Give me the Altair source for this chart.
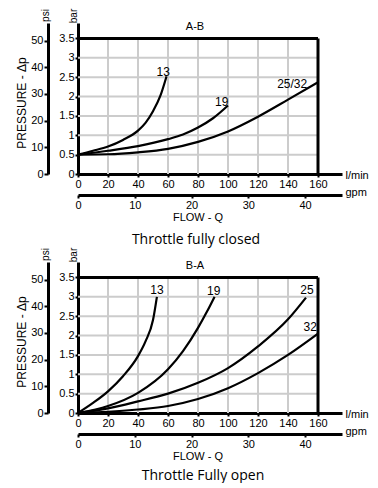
import altair as alt
import pandas as pd

# ---------------- data ----------------
TOP_HEAD = "A-B"
TOP_CAPTION = "Throttle fully closed"
TOP_13_Q = [0, 10, 20, 30, 40, 45, 50, 55, 59]
TOP_13_P = [0.5, 0.6, 0.71, 0.88, 1.12, 1.32, 1.62, 2.03, 2.52]
TOP_19_Q = [0, 20, 40, 60, 70, 80, 90, 100]
TOP_19_P = [0.5, 0.6, 0.72, 0.9, 1.02, 1.2, 1.44, 1.77]
TOP_25_Q = [0, 20, 40, 60, 80, 100, 120, 140, 160]
TOP_25_P = [0.5, 0.51, 0.56, 0.65, 0.83, 1.1, 1.48, 1.92, 2.37]
TOP_LABEL_TEXT = ["13", "19", "25/32"]
TOP_LABEL_Q = [56.8, 95.8, 142.8]
TOP_LABEL_P = [2.63, 1.87, 2.32]

BOT_HEAD = "B-A"
BOT_CAPTION = "Throttle Fully open"
BOT_13_Q = [0, 10, 20, 30, 40, 45, 50, 52.6]
BOT_13_P = [0, 0.26, 0.56, 0.95, 1.47, 1.85, 2.4, 3.0]
BOT_19_Q = [0, 20, 40, 60, 70, 80, 86, 91]
BOT_19_P = [0, 0.18, 0.52, 1.13, 1.6, 2.2, 2.62, 3.0]
BOT_25_Q = [0, 20, 40, 60, 80, 100, 120, 140, 152]
BOT_25_P = [0, 0.12, 0.3, 0.5, 0.78, 1.16, 1.72, 2.42, 2.98]
BOT_32_Q = [0, 20, 40, 60, 80, 100, 120, 140, 160]
BOT_32_P = [0, 0.03, 0.09, 0.18, 0.36, 0.64, 1.03, 1.5, 2.05]
BOT_LABEL_TEXT = ["13", "19", "25", "32"]
BOT_LABEL_Q = [52.6, 90.5, 152.6, 154.8]
BOT_LABEL_P = [3.17, 3.16, 3.18, 2.22]

Q_TICKS = [0, 20, 40, 60, 80, 100, 120, 140, 160]
P_TICKS = [0, 0.5, 1, 1.5, 2, 2.5, 3, 3.5]
PSI_TICKS = [0, 10, 20, 30, 40, 50]
GPM_TICKS = [0, 10, 20, 30, 40]
GRID_Q = [20, 40, 60, 80, 100, 120, 140]
GRID_P = [0.5, 1, 1.5, 2, 2.5, 3]
Q_MAX = 160
P_MAX = 3.5
Q_AXIS_END = 176
P_AXIS_END = 3.9
BAR_TO_PSI = 14.5038
LPM_PER_GPM = 3.78541

X_UNIT = "l/min"
GPM_UNIT = "gpm"
BAR_UNIT = "bar"
PSI_UNIT = "psi"
Y_TITLE = "PRESSURE - \u0394p"
X_TITLE = "FLOW - Q"

# ---------------- styling ----------------
W, H = 264, 151
FONT = "Liberation Sans"
CAP_FONT = "Open Sans"
GRID_COLOR = "#cccccc"


def series_df(names, qs, ps):
    rows = []
    for n, q, p in zip(names, qs, ps):
        for a, b in zip(q, p):
            rows.append({"s": n, "q": a, "p": b})
    return pd.DataFrame(rows)


def note(txt, x, y, **kw):
    return alt.Chart(pd.DataFrame({"t": [txt]})).mark_text(**kw).encode(
        x=alt.value(x), y=alt.value(y), text="t:N"
    )


def panel(curves, labels, head, caption, cap_x, cap_y):
    xs = alt.Scale(domain=[0, Q_AXIS_END], nice=False, zero=False)
    ys = alt.Scale(domain=[0, P_AXIS_END], nice=False, zero=False)
    xaxis = alt.Axis(values=Q_TICKS, title=X_UNIT, titleX=W + 3, titleY=1,
                     titleAlign="left", titleBaseline="middle", titleAngle=0,
                     tickSize=3, labelPadding=1, labelFlush=False, labelOverlap=False)
    yaxis = alt.Axis(values=P_TICKS, format="~g", title=None, tickSize=3,
                     labelPadding=1, labelFlush=False, labelOverlap=False)
    X = lambda f: alt.X(f, type="quantitative", scale=xs, axis=xaxis)
    Y = lambda f: alt.Y(f, type="quantitative", scale=ys, axis=yaxis)

    gx = pd.DataFrame({"q": GRID_Q, "p": [0] * len(GRID_Q), "p2": [P_MAX] * len(GRID_Q)})
    gy = pd.DataFrame({"p": GRID_P, "q": [0] * len(GRID_P), "q2": [Q_MAX] * len(GRID_P)})
    grid_v = alt.Chart(gx).mark_rule(color=GRID_COLOR, strokeWidth=2).encode(
        x=X("q"), y=Y("p"), y2="p2")
    grid_h = alt.Chart(gy).mark_rule(color=GRID_COLOR, strokeWidth=2).encode(
        y=Y("p"), x=X("q"), x2="q2")
    top_edge = alt.Chart(pd.DataFrame({"p": [P_MAX], "q": [0], "q2": [Q_MAX]})).mark_rule(
        color="black", strokeWidth=3).encode(y=Y("p"), x=X("q"), x2="q2")
    right_edge = alt.Chart(pd.DataFrame({"q": [Q_MAX], "p": [0], "p2": [P_MAX]})).mark_rule(
        color="black", strokeWidth=3).encode(x=X("q"), y=Y("p"), y2="p2")
    lines = alt.Chart(curves).mark_line(color="black", strokeWidth=2.2,
                                        interpolate="monotone").encode(
        x=X("q"), y=Y("p"), detail="s:N", order="q:Q")
    lab = alt.Chart(labels).mark_text(font=FONT, fontSize=12, color="black").encode(
        x=X("q"), y=Y("p"), text="t:N")
    hd = alt.Chart(pd.DataFrame({"t": [head], "q": [78], "p": [3.8]})).mark_text(
        font=FONT, fontSize=11, color="black").encode(x=X("q"), y=Y("p"), text="t:N")

    inner = alt.layer(
        grid_v, grid_h, top_edge, right_edge, lines, lab, hd,
        note(BAR_UNIT, -4, -7, font=FONT, fontSize=10, angle=270),
        note(PSI_UNIT, -32, -7.5, font=FONT, fontSize=10, angle=270),
        note(Y_TITLE, -56, 80, font=FONT, fontSize=12, angle=270),
        note(X_TITLE, 120, 195, font=FONT, fontSize=11),
        note(caption, cap_x, cap_y, font=CAP_FONT, fontSize=14),
    )

    psi = alt.Chart(pd.DataFrame({"psi": PSI_TICKS})).mark_point(opacity=0).encode(
        y=alt.Y("psi:Q", scale=alt.Scale(domain=[0, P_AXIS_END * BAR_TO_PSI], nice=False, zero=False),
                axis=alt.Axis(values=PSI_TICKS, orient="left", offset=30, title=None,
                              tickSize=4, labelPadding=1, labelFlush=False, labelOverlap=False)),
        x=alt.value(0))
    gpm = alt.Chart(pd.DataFrame({"gpm": GPM_TICKS})).mark_point(opacity=0).encode(
        x=alt.X("gpm:Q", scale=alt.Scale(domain=[0, Q_AXIS_END / LPM_PER_GPM], nice=False, zero=False),
                axis=alt.Axis(values=GPM_TICKS, orient="bottom", offset=21, title=GPM_UNIT,
                              titleX=W + 3, titleY=-3, titleAlign="left", titleBaseline="middle",
                              titleAngle=0, tickSize=3, labelPadding=1, labelFlush=False,
                              labelOverlap=False)),
        y=alt.value(0))

    return alt.layer(inner, psi, gpm).resolve_scale(x="independent", y="independent").properties(
        width=W, height=H)


top = panel(series_df(["13", "19", "25/32"], [TOP_13_Q, TOP_19_Q, TOP_25_Q],
                      [TOP_13_P, TOP_19_P, TOP_25_P]),
            pd.DataFrame({"t": TOP_LABEL_TEXT, "q": TOP_LABEL_Q, "p": TOP_LABEL_P}),
            TOP_HEAD, TOP_CAPTION, 118, 217)
bot = panel(series_df(["13", "19", "25", "32"], [BOT_13_Q, BOT_19_Q, BOT_25_Q, BOT_32_Q],
                      [BOT_13_P, BOT_19_P, BOT_25_P, BOT_32_P]),
            pd.DataFrame({"t": BOT_LABEL_TEXT, "q": BOT_LABEL_Q, "p": BOT_LABEL_P}),
            BOT_HEAD, BOT_CAPTION, 125, 214)

chart = alt.vconcat(top, bot, spacing=0).properties(
    padding={"left": 8, "top": 0, "right": 0, "bottom": 0}).configure_view(
    stroke=None).configure_axis(
    domainWidth=3, domainColor="black", tickColor="black", tickWidth=2, grid=False,
    labelFont=FONT, labelFontSize=11, labelColor="black",
    titleFont=FONT, titleFontSize=11, titleFontWeight="normal", titleColor="black")

chart.save("out.html", embed_options={"renderer": "svg", "actions": False})
